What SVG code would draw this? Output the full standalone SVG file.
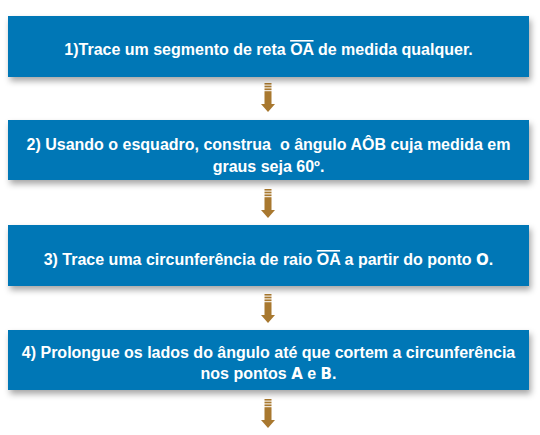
<svg xmlns="http://www.w3.org/2000/svg" width="540" height="435" viewBox="0 0 540 435">
<defs>
  <filter id="sh" x="-5%" y="-20%" width="112%" height="150%">
    <feDropShadow dx="2" dy="4" stdDeviation="3" flood-color="#000" flood-opacity="0.35"/>
  </filter>
  <g id="arrow">
    <rect x="-3.5" y="0" width="7" height="1.6"/>
    <rect x="-3.5" y="2.6" width="7" height="1.8"/>
    <rect x="-3.5" y="5.4" width="7" height="1.8"/>
    <rect x="-3.5" y="8.2" width="7" height="13"/>
    <polygon points="-7,21 7,21 0,29"/>
  </g>
</defs>
<style>
  .box { fill: #0077B6; filter: url(#sh); }
  .t { font-family: "Liberation Sans", Arial, sans-serif; font-weight: bold; font-size: 16px; fill: #ffffff; text-anchor: middle; white-space: pre; }
  .w { font-family: "DejaVu Sans", sans-serif; font-weight: bold; font-size: 15px; }
  .ov { text-decoration: overline; }
  .arr { fill: #A8782F; }
</style>
<rect width="540" height="435" fill="#ffffff"/>
<g id="connectors" class="arr">
  <use href="#arrow" x="268" y="83"/>
  <use href="#arrow" x="268" y="189"/>
  <use href="#arrow" x="268" y="294"/>
  <use href="#arrow" x="268" y="399"/>
</g>
<g id="step1">
  <rect class="box" x="8" y="16" width="521" height="61"/>
  <text class="t" x="268.5" y="55">1)Trace um segmento de reta <tspan class="ov">OA</tspan> de medida qualquer.</text>
</g>
<g id="step2">
  <rect class="box" x="8" y="120" width="521" height="60"/>
  <text class="t" x="268.5" y="150">2) Usando o esquadro, construa  o ângulo AÔB cuja medida em</text>
  <text class="t" x="268.5" y="172">graus seja 60º.</text>
</g>
<g id="step3">
  <rect class="box" x="8" y="225" width="521" height="61"/>
  <text class="t" x="268.5" y="265">3) Trace uma circunferência de raio <tspan class="ov">OA</tspan> a partir do ponto <tspan class="w">O</tspan>.</text>
</g>
<g id="step4">
  <rect class="box" x="8" y="330" width="521" height="60"/>
  <text class="t" x="268.5" y="358">4) Prolongue os lados do ângulo até que cortem a circunferência</text>
  <text class="t" x="268.5" y="379">nos pontos <tspan class="w">A</tspan> e <tspan class="w">B</tspan>.</text>
</g>
</svg>
